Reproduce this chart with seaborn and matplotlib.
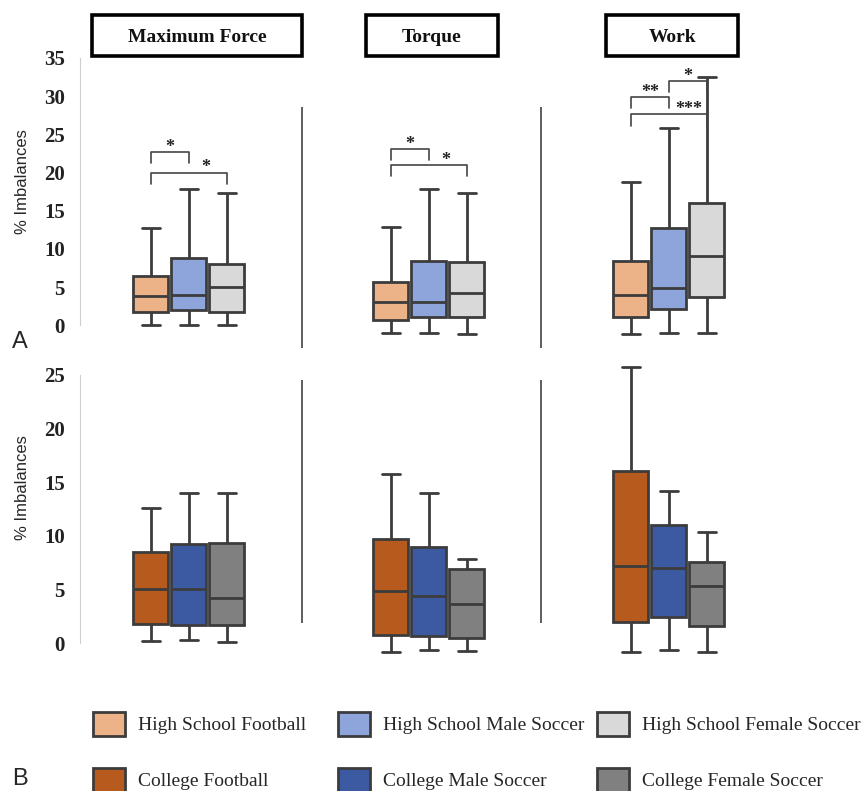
import seaborn as sns
import numpy as np
import pandas as pd
import matplotlib.pyplot as plt
from matplotlib.patches import Patch, Rectangle
from matplotlib.transforms import blended_transform_factory

# -----------------------------------------------
# Dados: resumo de cinco números (mín, Q1, mediana, Q3, máx)
# por medida: Maximum Force, Torque, Work
# -----------------------------------------------
medidas = ["Maximum Force", "Torque", "Work"]

grupos_hs = ["High School Football", "High School Male Soccer", "High School Female Soccer"]
grupos_col = ["College Football", "College Male Soccer", "College Female Soccer"]

hs_football = [[0.0, 1.7, 3.8, 6.4, 12.7], [-1.0, 0.65, 3.0, 5.7, 12.9], [-1.2, 1.05, 3.9, 8.4, 18.7]]
hs_male = [[0.1, 2.0, 3.9, 8.8, 17.8], [-1.0, 1.05, 3.0, 8.4, 17.9], [-1.0, 2.1, 4.9, 12.7, 25.8]]
hs_female = [[0.0, 1.7, 5.0, 8.0, 17.3], [-1.2, 1.05, 4.2, 8.3, 17.3], [-1.0, 3.7, 9.1, 16.0, 32.5]]

col_football = [[0.2, 1.8, 5.0, 8.5, 12.6], [-0.8, 0.8, 4.9, 9.7, 15.8], [-0.8, 2.0, 7.2, 16.0, 25.7]]
col_male = [[0.3, 1.7, 5.0, 9.2, 14.0], [-0.6, 0.7, 4.4, 9.0, 14.0], [-0.6, 2.4, 7.0, 11.0, 14.2]]
col_female = [[0.1, 1.7, 4.2, 9.3, 14.0], [-0.7, 0.5, 3.6, 6.9, 7.8], [-0.8, 1.6, 5.3, 7.6, 10.4]]

cores_hs = ["#ECB389", "#8EA5DC", "#D9D9D9"]
cores_col = ["#B65A1E", "#3C5AA2", "#808080"]

# colchetes de significância do painel A: (medida, grupo a, grupo b, topo, texto, posição do texto)
colchetes = [
    (0, 0, 1, 22.7, "*", 0.5),
    (0, 0, 2, 20.0, "*", 0.72),
    (1, 0, 1, 23.1, "*", 0.5),
    (1, 0, 2, 21.0, "*", 0.72),
    (2, 0, 1, 29.9, "**", 0.5),
    (2, 1, 2, 32.0, "*", 0.5),
    (2, 0, 2, 27.6, "***", 0.76),
]


def monta_df(grupos, series):
    linhas = []
    for g, s in zip(grupos, series):
        for m, valores in zip(medidas, s):
            for v in valores:
                linhas.append({"medida": m, "grupo": g, "valor": v})
    return pd.DataFrame(linhas)


df_a = monta_df(grupos_hs, [hs_football, hs_male, hs_female])
df_b = monta_df(grupos_col, [col_football, col_male, col_female])

sns.set_style("white")
plt.rcParams["font.family"] = ["Liberation Serif", "DejaVu Serif"]

fig = plt.figure(figsize=(8.62, 7.91), dpi=100)
ax_a = fig.add_axes([0.0928, 0.5714, 0.8503, 0.3553])
ax_b = fig.add_axes([0.0928, 0.1707, 0.8503, 0.3661])

LARGURA = 0.475
BORDA = "#3c3c3c"

for ax, df, grupos, cores, ylim, ytopo, sep in [
    (ax_a, df_a, grupos_hs, cores_hs, (-1.8, 35), 35, (-3.0, 28.6)),
    (ax_b, df_b, grupos_col, cores_col, (-1.2, 25.8), 25, (1.9, 24.5)),
]:
    sns.boxplot(data=df, x="medida", y="valor", hue="grupo", hue_order=grupos,
                order=medidas, palette=cores, whis=(0, 100), width=LARGURA, gap=0.08,
                linewidth=2, linecolor=BORDA, saturation=1, legend=False, ax=ax)
    ax.set_xlim(-0.454, 2.6)
    ax.set_ylim(*ylim)
    ax.set_yticks(list(range(0, ytopo + 1, 5)))
    ax.set_xticks([])
    ax.set_xlabel("")
    for lado in ["top", "right", "bottom"]:
        ax.spines[lado].set_visible(False)
    ax.spines["left"].set_color("#cfcfcf")
    ax.spines["left"].set_linewidth(0.8)
    ax.spines["left"].set_bounds(0, ytopo)
    ax.tick_params(axis="y", length=0, pad=11)
    for rot in ax.get_yticklabels():
        rot.set_fontweight("bold")
        rot.set_fontsize(15)
        rot.set_color("#222222")
    ax.set_ylabel("% Imbalances", family="Liberation Sans", fontsize=12)
    ax.vlines([0.47, 1.467], sep[0], sep[1], colors="#333333", lw=1.1, clip_on=False)

ax_a.yaxis.set_label_coords(-0.068, 0.56)
ax_b.yaxis.set_label_coords(-0.068, 0.58)

# colchetes de significância
passo = LARGURA / 3
alt = 1.45
for m, ga, gb, topo, txt, frac in colchetes:
    x1 = m + (ga - 1) * passo
    x2 = m + (gb - 1) * passo
    ax_a.plot([x1, x1, x2, x2], [topo - alt, topo, topo, topo - alt],
              color="#444444", lw=1.2, clip_on=False)
    ax_a.text(x1 + frac * (x2 - x1), topo - 0.5, txt, ha="center", va="bottom",
              fontsize=13, fontweight="bold", color="#222222")

# títulos em caixas
trans = blended_transform_factory(ax_a.transData, fig.transFigure)
larguras_caixa = [210, 132, 132]
desloc = [0.035, 0.012, 0.014]
for i, m in enumerate(medidas):
    xc = i + desloc[i]
    ax_a.text(xc, 1 - 38 / 791, m, ha="center", va="center", transform=trans,
              fontsize=14, fontweight="bold", color="#111111")
    cx = fig.transFigure.inverted().transform(trans.transform((xc, 0)))[0]
    w = larguras_caixa[i] / 862
    fig.patches.append(Rectangle((cx - w / 2, 1 - 56 / 791), w, 41 / 791,
                                 transform=fig.transFigure, fill=False,
                                 edgecolor="black", lw=2.6))

# legenda: uma coluna por modalidade
for x0, hs, col, ch, cc in zip([93, 338, 597], grupos_hs, grupos_col, cores_hs, cores_col):
    handles = [Patch(facecolor=ch, edgecolor=BORDA, lw=2, label=hs),
               Patch(facecolor=cc, edgecolor=BORDA, lw=2, label=col)]
    fig.legend(handles=handles, loc="upper left", bbox_to_anchor=(x0 / 862, 1 - 712 / 791),
               frameon=False, fontsize=14, handlelength=1.65, handleheight=1.5,
               handletextpad=0.65, labelspacing=1.66, borderpad=0, borderaxespad=0)

fig.text(12 / 862, 1 - 342 / 791, "A", family="Liberation Sans", fontsize=17, va="center")
fig.text(12 / 862, 1 - 779 / 791, "B", family="Liberation Sans", fontsize=17, va="center")

fig.savefig("out.png", dpi=100)
